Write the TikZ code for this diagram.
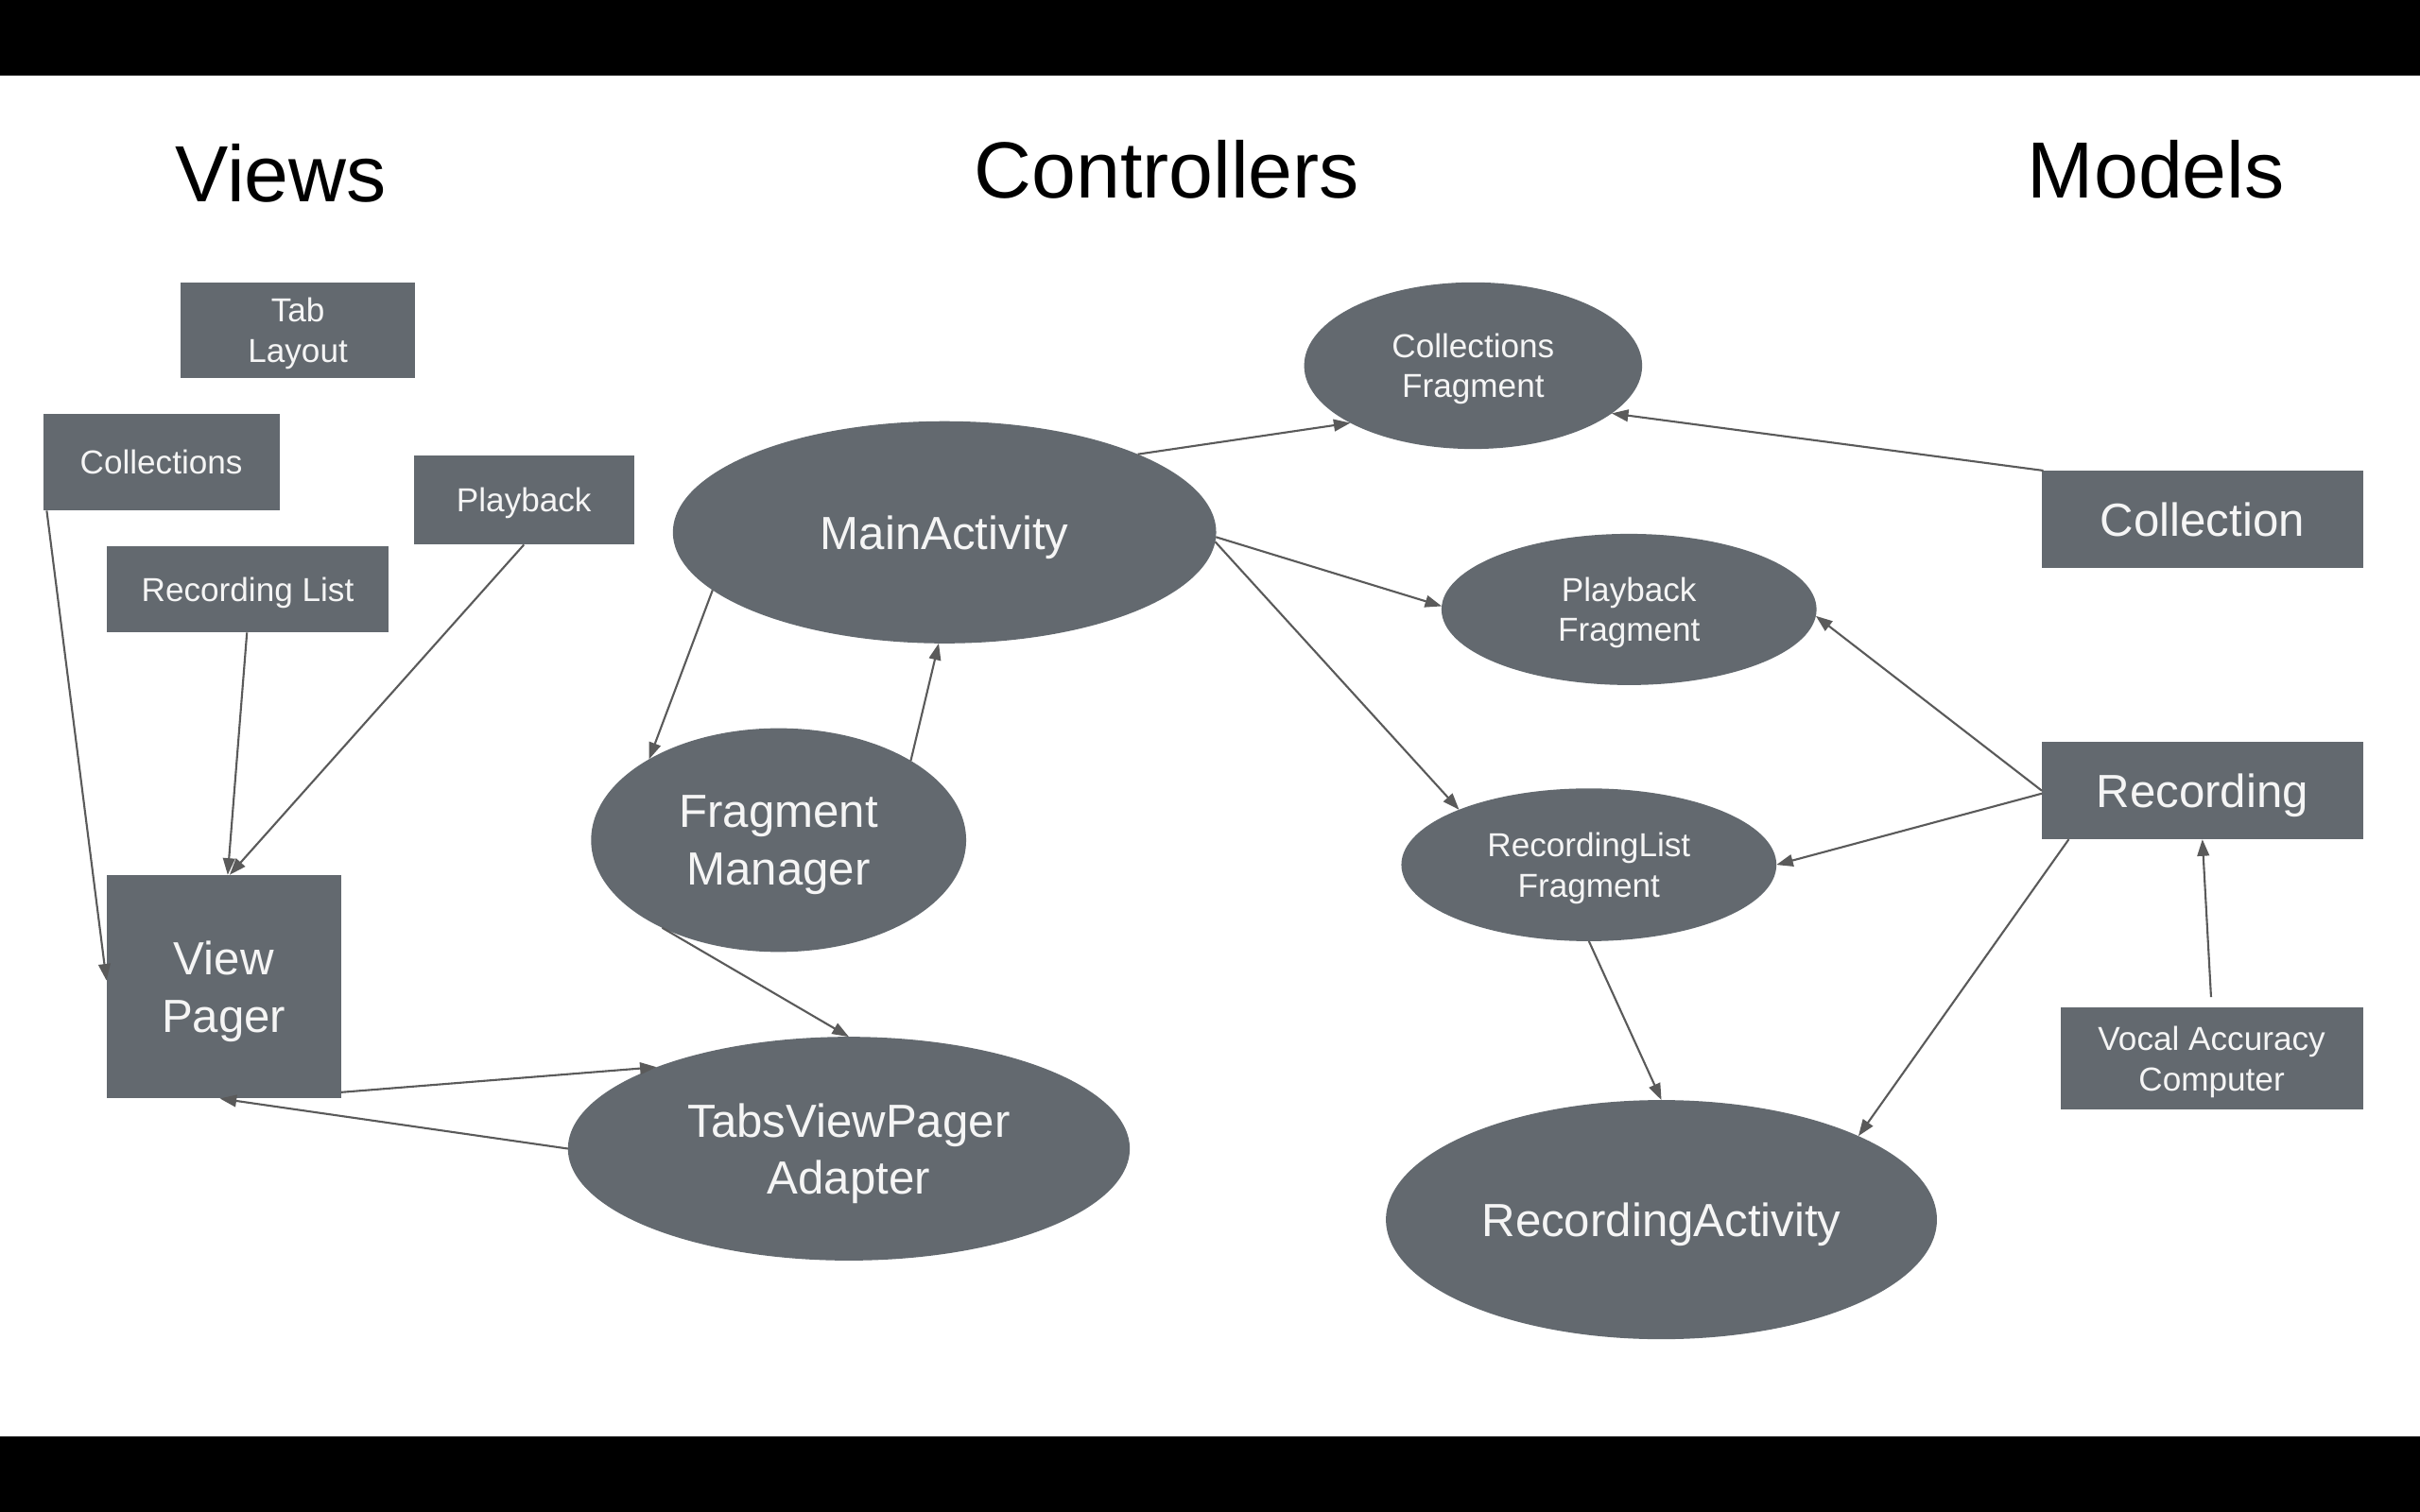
\documentclass[tikz,border=0pt]{standalone}
\usepackage{fontspec}
\setmainfont{Liberation Sans}
\usetikzlibrary{shapes.geometric,arrows.meta}
\definecolor{nodegray}{RGB}{99,105,111}
\definecolor{linegray}{RGB}{90,90,90}
\definecolor{txtwhite}{RGB}{245,245,245}
\tikzset{
  sz/.style 2 args={minimum width=#1*0.016327cm, minimum height=#2*0.016327cm},
  boxn/.style={rectangle, fill=nodegray, text=txtwhite, inner sep=0pt, outer sep=0pt, align=center, text depth=0pt},
  elln/.style={ellipse, fill=nodegray, text=txtwhite, inner sep=0pt, outer sep=0pt, align=center, text depth=0pt},
  smalltxt/.style={font=\fontsize{10}{12.1}\selectfont},
  bigtxt/.style={font=\fontsize{14}{17.2}\selectfont},
  titletxt/.style={font=\fontsize{24}{28.8}\selectfont, text=black, inner sep=0pt},
  conn/.style={draw=linegray, line width=0.6pt, -{Triangle[length=5pt,width=3.6pt]}},
}
\begin{document}
\begin{tikzpicture}[x=0.016327cm, y=-0.016327cm]
\useasboundingbox (0,0) rectangle (1568,980);
\fill[black] (0,0) rectangle (1568,980);
\fill[white] (0,49) rectangle (1568,931);

% titles
\node[titletxt] (tviews) at (182,112) {Views};
\node[titletxt] (tctrl) at (756,110) {Controllers};
\node[titletxt] (tmodels) at (1397,110) {Models};

% views
\node[boxn, smalltxt, sz={152}{62}] (tab) at (193,214) {Tab\\Layout};
\node[boxn, smalltxt, sz={153}{63}] (coll) at (104.5,299.5) {Collections};
\node[boxn, smalltxt, sz={143}{58}] (play) at (339.5,324) {Playback};
\node[boxn, smalltxt, sz={183}{56}] (rlist) at (160.5,382) {Recording List};
\node[boxn, bigtxt, sz={152}{145}] (vp) at (145,639.5) {View\\Pager};

% controllers
\node[elln, bigtxt, sz={352}{144}] (ma) at (612,345) {MainActivity};
\node[elln, bigtxt, sz={243}{145}] (fm) at (504.5,544.5) {Fragment\\Manager};
\node[elln, bigtxt, sz={364}{145}] (tvpa) at (550,744.5) {TabsViewPager\\Adapter};
\node[elln, smalltxt, sz={219}{108}] (cf) at (954.5,237) {Collections\\Fragment};
\node[elln, smalltxt, sz={243}{98}] (pf) at (1055.5,395) {Playback\\Fragment};
\node[elln, smalltxt, sz={243}{99}] (rlf) at (1029.5,560.5) {RecordingList\\Fragment};
\node[elln, bigtxt, sz={357}{155}] (ra) at (1076.5,790.5) {RecordingActivity};

% models
\node[boxn, bigtxt, sz={208}{63}] (collection) at (1427,336.5) {Collection};
\node[boxn, bigtxt, sz={208}{63}] (rec) at (1427,512.5) {Recording};
\node[boxn, smalltxt, sz={196}{66}] (vac) at (1433,686) {Vocal Accuracy\\Computer};

% connectors
\draw[conn] (coll.203.8) -- (vp.177.4);
\draw[conn] (rlist.269) -- (vp.88.4);
\draw[conn] (play.south) -- (vp.87);
\draw[conn] (vp.318.8) -- (tvpa.157.4);
\draw[conn] (tvpa.west) -- (vp.268.4);
\draw[conn] (fm.217) -- (tvpa.north);
\draw[conn] (ma.194.6) -- (fm.148.6);
\draw[conn] (fm.31.3) -- (ma.267.6);
\draw[conn] (ma.22.2) -- (cf.205.2);
\draw[conn] (ma.359.4) -- (pf.179);
\draw[conn] (ma.358.7) -- (rlf.157.9);
\draw[conn] (collection.163.7) -- (cf.341.7);
\draw[conn] (rec.west) -- (pf.358);
\draw[conn] (rec.181) -- (rlf.east);
\draw[conn] (rec.200.4) -- (ra.23.5);
\draw[conn] (rlf.south) -- (ra.north);
\draw[conn, shorten <=0.11cm] (vac.north) -- (rec.south);
\end{tikzpicture}
\end{document}
